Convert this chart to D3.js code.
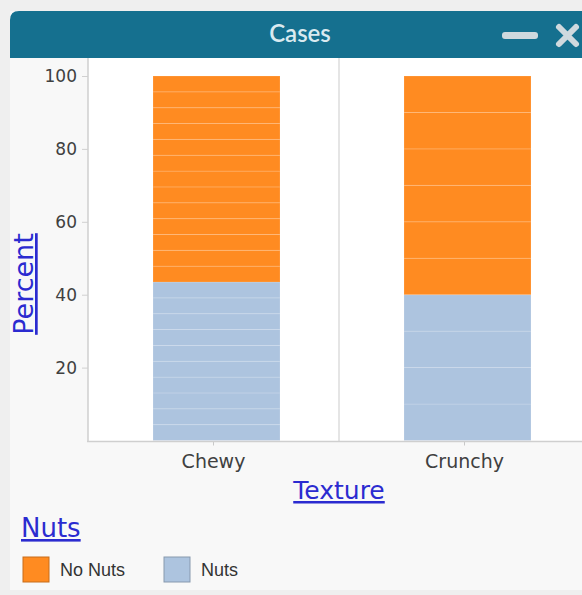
<!DOCTYPE html>
<html>
<head>
<meta charset="utf-8">
<script src="https://cdn.jsdelivr.net/npm/d3@7"></script>
<style>
  html, body { margin: 0; padding: 0; background: #efefef; }
  svg { display: block; }
</style>
</head>
<body>
<svg id="chart" width="582" height="595"></svg>
<script>
// ---- data ----
const textures = ["Chewy", "Crunchy"];
const nutsCounts = [10, 4];      // cases with nuts per texture
const noNutsCounts = [13, 6];    // cases without nuts per texture
const legendLabels = ["No Nuts", "Nuts"];
const yTicks = [20, 40, 60, 80, 100];
const titleText = "Cases";
const xTitle = "Texture";
const yTitle = "Percent";
const legendTitle = "Nuts";

const colors = { "No Nuts": "#ff8b21", "Nuts": "#adc4df" };
const labelFont = "'DejaVu Sans', Verdana, sans-serif";
const linkBlue = "#2b2bd0";

const svg = d3.select("#chart");

// window panel
svg.append("rect").attr("x", 10).attr("y", 11).attr("width", 600).attr("height", 579)
  .attr("fill", "#f8f8f8");
// plot area white
svg.append("rect").attr("x", 88).attr("y", 58).attr("width", 520).attr("height", 383)
  .attr("fill", "#ffffff");

// title bar
svg.append("path")
  .attr("d", "M10,58 L10,20 Q10,11 19,11 L620,11 L620,58 Z")
  .attr("fill", "#15708f");
svg.append("text").attr("x", 300).attr("y", 42).attr("text-anchor", "middle")
  .attr("font-family", "Lato, sans-serif").attr("font-size", 24).attr("font-weight", 600)
  .attr("fill", "#d9eaf0").text(titleText);
// minimize and close icons
svg.append("rect").attr("x", 502).attr("y", 32).attr("width", 36).attr("height", 7)
  .attr("rx", 3).attr("fill", "#cfd9de");
svg.append("path").attr("d", "M559,27 L576,44 M576,27 L559,44")
  .attr("stroke", "#cfd9de").attr("stroke-width", 6).attr("stroke-linecap", "round");

// scales
const y = d3.scaleLinear().domain([0, 100]).range([440.5, 76]);
const x = d3.scaleBand().domain(textures).range([88, 590]).paddingInner(0).paddingOuter(0);
const barW = 127;
const barShift = 3;

// divider between categories
svg.append("line")
  .attr("x1", x(textures[1])).attr("x2", x(textures[1]))
  .attr("y1", 58).attr("y2", 441)
  .attr("stroke", "#dddddd").attr("stroke-width", 1.5);

// build case-level stacks
const cases = [];
textures.forEach((t, i) => {
  const total = nutsCounts[i] + noNutsCounts[i];
  const step = 100 / total;
  let k = 0;
  for (let j = 0; j < nutsCounts[i]; j++, k++) cases.push({ t, cat: "Nuts", y0: k * step, y1: (k + 1) * step });
  for (let j = 0; j < noNutsCounts[i]; j++, k++) cases.push({ t, cat: "No Nuts", y0: k * step, y1: (k + 1) * step });
});

svg.append("g").selectAll("rect").data(cases).join("rect")
  .attr("x", d => x(d.t) + (x.bandwidth() - barW) / 2 + barShift)
  .attr("width", barW)
  .attr("y", d => y(d.y1))
  .attr("height", d => y(d.y0) - y(d.y1))
  .attr("fill", d => colors[d.cat])
  .attr("stroke", "#ffffff").attr("stroke-opacity", 0.15).attr("stroke-width", 1);

// y axis
const yAxis = d3.axisLeft(y).tickValues(yTicks).tickSize(6).tickPadding(5);
const gy = svg.append("g").attr("transform", "translate(88,0)").call(yAxis);
gy.select(".domain").remove();
gy.selectAll(".tick line").attr("stroke", "#d0d0d0");
gy.selectAll(".tick text").attr("font-family", labelFont)
  .attr("font-size", 17).attr("fill", "#404040");
svg.append("line").attr("x1", 88).attr("x2", 88).attr("y1", 58).attr("y2", 442)
  .attr("stroke", "#cfcfcf").attr("stroke-width", 1.5);

// x axis
const xAxis = d3.axisBottom(x).tickSize(4).tickPadding(9);
const gx = svg.append("g").attr("transform", "translate(0,441.5)").call(xAxis);
gx.select(".domain").remove();
gx.selectAll(".tick line").attr("stroke", "#c8c8c8");
gx.selectAll(".tick text").attr("font-family", labelFont)
  .attr("font-size", 19).attr("fill", "#404040");
svg.append("line").attr("x1", 87).attr("x2", 582).attr("y1", 441.5).attr("y2", 441.5)
  .attr("stroke", "#cfcfcf").attr("stroke-width", 1.5);

// axis titles
svg.append("text").attr("x", 339).attr("y", 499).attr("text-anchor", "middle")
  .attr("font-family", labelFont).attr("font-size", 25)
  .attr("fill", linkBlue).attr("text-decoration", "underline").text(xTitle);
svg.append("text").attr("transform", "translate(33,284) rotate(-90)").attr("text-anchor", "middle")
  .attr("font-family", labelFont).attr("font-size", 27)
  .attr("fill", linkBlue).attr("text-decoration", "underline").text(yTitle);

// legend
svg.append("text").attr("x", 21).attr("y", 537)
  .attr("font-family", labelFont).attr("font-size", 26)
  .attr("fill", linkBlue).attr("text-decoration", "underline").text(legendTitle);
const legendX = [23, 164];
const lg = svg.append("g").selectAll("g").data(legendLabels).join("g")
  .attr("transform", (d, i) => `translate(${legendX[i]},557)`);
lg.append("rect").attr("width", 26).attr("height", 25)
  .attr("fill", d => colors[d])
  .attr("stroke", d => d3.color(colors[d]).darker(0.7)).attr("stroke-width", 1);
lg.append("text").attr("x", 37).attr("y", 19)
  .attr("font-family", "'Liberation Sans', Arial, sans-serif").attr("font-size", 18)
  .attr("fill", "#333333").text(d => d);
</script>
</body>
</html>
